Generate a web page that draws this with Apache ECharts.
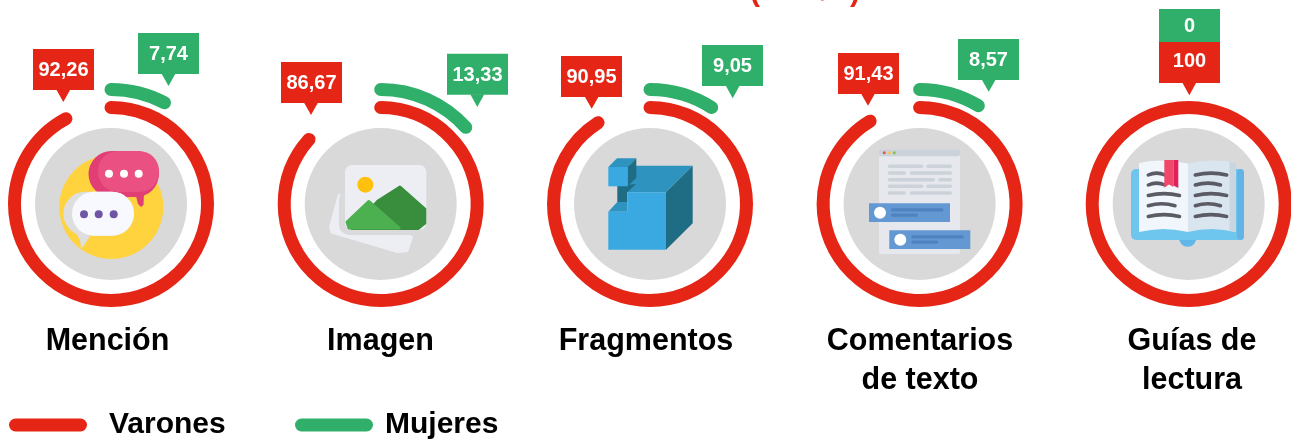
<!DOCTYPE html>
<html>
<head>
<meta charset="utf-8">
<title>Varones y Mujeres</title>
<style>
  html, body { margin: 0; padding: 0; background: #fff; }
  #chart { width: 1291px; height: 441px; }
</style>
<script src="https://cdn.jsdelivr.net/npm/echarts@6/dist/echarts.min.js"></script>
</head>
<body>
<div id="chart"></div>
<script>
// data
const categories = ['Mención', 'Imagen', 'Fragmentos', 'Comentarios\nde texto', 'Guías de\nlectura'];
const varones = [92.26, 86.67, 90.95, 91.43, 100];
const mujeres = [7.74, 13.33, 9.05, 8.57, 0];

const RED = '#E52515';
const GREEN = '#30AF6A';
const FONT = '"Liberation Sans", Arial, sans-serif';

// layout: ring centres, callout boxes (left, top, tip x, tip y), label centres
const centers = [[111, 204], [380.7, 204], [650, 204], [919.6, 204], [1188.7, 204]];
const redBoxes = [[33, 49, 63.3, 102], [281, 62, 311, 115], [561, 56, 591.7, 108.7], [838, 53, 868, 105.7], [1159, 42, 1189.3, 95.3]];
const greenBoxes = [[138, 33, 168.5, 86], [447, 53.7, 477.3, 107], [702, 45, 732.7, 98.3], [958, 39, 988.7, 91.7], [1159, 9, null, null]];
const labelX = [107.5, 380.5, 646, 920, 1192];

// small drawing helpers
const rect = (x, y, w, h, fill, r) => ({ type: 'rect', silent: true, shape: { x, y, width: w, height: h, r: r || 0 }, style: { fill } });
const circle = (cx, cy, r, fill) => ({ type: 'circle', silent: true, shape: { cx, cy, r }, style: { fill } });
const poly = (points, fill, round) => ({
    type: 'polygon', silent: true, shape: { points },
    style: round ? { fill, stroke: fill, lineWidth: round, lineJoin: 'round' } : { fill }
});
const curve = (x1, x2, y, stroke) => ({
    type: 'bezierCurve', silent: true,
    shape: { x1, y1: y, x2, y2: y, cpx1: x1 + (x2 - x1) / 3, cpy1: y - 2.5, cpx2: x1 + (x2 - x1) * 2 / 3, cpy2: y - 2.5 },
    style: { stroke, lineWidth: 3.5, lineCap: 'round', fill: null }
});
const text = (x, y, str, size, fill, align) => ({
    type: 'text', silent: true, x, y,
    style: { text: str, font: 'bold ' + size + 'px ' + FONT, fill, align: align || 'center', verticalAlign: 'middle', lineHeight: 39 }
});

const fmt = v => String(v).replace('.', ',');

// one callout: box, tip and value
const callout = (box, value, color, textY) => {
    const [x, y, tx, ty] = box;
    const h = tx === null ? 33 : 41;
    const out = [rect(x, y, 61, h, color)];
    if (tx !== null) out.push(poly([[tx - 7, y + h - 0.5], [tx + 7, y + h - 0.5], [tx, ty]], color));
    out.push(text(x + 30.5, textY !== undefined ? textY : y + h / 2 + 1, fmt(value), 20, '#fff'));
    return out;
};

// icons drawn inside the grey discs
const iconMencion = () => [
    circle(111.3, 207, 52, '#FFD33E'),
    poly([[135, 192], [144, 192], [143.5, 205], [141, 207], [138, 204]], '#E03E74'),
    rect(88.5, 151, 70.5, 46, '#E03E74', 23),
    rect(98, 151, 61, 41, '#EA5082', 20),
    circle(109, 173.7, 4, '#fff'), circle(124, 173.7, 4, '#fff'), circle(138.7, 173.7, 4, '#fff'),
    poly([[74, 230], [90, 236], [83, 247], [81, 248], [80, 240]], '#DEDEDE'),
    rect(63.3, 191.7, 70.7, 44, '#DEDEDE', 22),
    rect(72, 191.7, 62, 44, '#F8F9FE', 22),
    circle(84, 214.3, 4, '#6E56A5'), circle(98.7, 214.3, 4, '#6E56A5'), circle(113.7, 214.3, 4, '#6E56A5')
];

const iconImagen = () => [
    poly([[338.3, 193.3], [329, 226.7], [331, 233.5], [398, 253.3], [408, 252], [413.3, 236.7]], '#ECEEF3'),
    rect(339, 190, 87, 45, '#DADADD', 10),
    rect(345, 165, 81.3, 65, '#ECEEF3', 7),
    circle(365.3, 184.7, 8, '#FFC10D'),
    poly([[400, 187], [424.8, 209], [424.8, 223], [418, 228.5], [352, 228.5], [378, 201]], '#388E3C', 3),
    poly([[368.7, 201.5], [347, 222], [349, 228], [399, 228]], '#4CAF50', 3)
];

const iconFragmentos = () => [
    poly([[627.3, 165.7], [692.7, 165.7], [666, 192.3], [627.3, 192.3]], '#2E93BF'),
    poly([[617.3, 186], [636, 184], [627.3, 192.3], [627.3, 202], [617.3, 202]], '#1F6C85'),
    poly([[608.3, 211.7], [617.3, 202], [627.3, 202], [627.3, 211.7]], '#2E93BF'),
    poly([[627.3, 192.3], [666, 192.3], [666, 249.7], [608.3, 249.7], [608.3, 211.7], [627.3, 211.7]], '#3AA9E2'),
    poly([[666, 192.3], [692.7, 165.7], [692.7, 223.3], [666, 249.7]], '#1F6C85'),
    poly([[608.3, 167], [617, 158.3], [636.3, 158.3], [627.7, 167]], '#2E93BF'),
    poly([[627.7, 167], [636.3, 158.3], [636.3, 177.7], [627.7, 186.3]], '#1F6C85'),
    rect(608.3, 167, 19.4, 19.3, '#3AA9E2')
];

const iconComentarios = () => {
    const grey = '#CBD2D9';
    const rows = [
        [166.3, 887.7, 923.3, 926.3, 952], [173, 887.7, 906, 909.7, 952], [179.7, 887.7, 935, 938.3, 952],
        [186.3, 887.7, 923.3, 926.3, 952], [193, 887.7, 906, 909.7, 952]
    ];
    const out = [
        rect(879, 149.3, 81, 104.7, '#E6E8ED', 2),
        rect(879, 149.3, 81, 7, grey, 2),
        circle(884.3, 152.7, 1.5, '#E0526A'), circle(889.3, 152.7, 1.5, '#F7C948'), circle(894.3, 152.7, 1.5, '#8BC34A')
    ];
    rows.forEach(([y, a, b, c, d]) => {
        out.push(rect(a, y - 1.7, b - a, 3.4, grey, 1.7), rect(c, y - 1.7, d - c, 3.4, grey, 1.7));
    });
    [[869, 203.3], [889.3, 230.3]].forEach(([x, y]) => {
        out.push(
            rect(x, y, 81, 18.7, '#6498D3'),
            circle(x + 11, y + 9.4, 6, '#fff'),
            rect(x + 22, y + 5, 52.4, 3.3, '#4F82C0', 1.6),
            rect(x + 22, y + 10.2, 27, 3.3, '#4F82C0', 1.6)
        );
    });
    return out;
};

const iconGuias = () => {
    const ink = '#5B5B66';
    return [
        circle(1187.7, 238, 8.7, '#62B6E8'),
        rect(1131, 169, 113, 71, '#6EC6EE', 5),
        rect(1237, 169, 7, 71, '#63B4E6', 4),
        poly([[1139, 163], [1151, 161], [1163, 160.5], [1175, 161.5], [1188, 163.5], [1188, 232], [1175, 229.8], [1163, 229], [1151, 230], [1139, 232]], '#F0F6FC'),
        poly([[1188, 163.5], [1200, 161.5], [1212, 160.5], [1224, 161], [1236, 163], [1236, 232], [1224, 230], [1212, 229], [1200, 229.8], [1188, 232]], '#DAE6EF'),
        poly([[1229.5, 162], [1236, 163], [1236, 232], [1229.5, 231]], '#C9D5DF'),
        curve(1148.3, 1165, 175, ink), curve(1148.3, 1165, 185, ink), curve(1148.3, 1179.5, 195.5, ink),
        curve(1148.3, 1175, 205.7, ink), curve(1148.3, 1179.5, 216.5, ink),
        curve(1195.3, 1226.7, 175, ink), curve(1195.3, 1220.5, 185, ink), curve(1195.3, 1226.7, 195.5, ink),
        curve(1195.3, 1220.5, 205.7, ink), curve(1195.3, 1226.7, 216.5, ink),
        poly([[1164.3, 160], [1173.5, 160], [1173.5, 187], [1169, 184.5], [1164.3, 187.5]], '#F0476B'),
        poly([[1173.5, 160], [1178.3, 160], [1178.3, 188], [1173.5, 185.5]], '#E01F5B')
    ];
};

// elements around the rings
const graphics = [];
centers.forEach(([cx, cy]) => graphics.push(circle(cx, cy, 76, '#D9D9D9')));
graphics.push(...iconMencion(), ...iconImagen(), ...iconFragmentos(), ...iconComentarios(), ...iconGuias());
categories.forEach((name, i) => {
    const lines = name.split('\n');
    lines.forEach((line, j) => graphics.push(text(labelX[i], 341.5 + j * 39, line, 30.5, '#000')));
    graphics.push(...callout(greenBoxes[i], mujeres[i], GREEN));
    graphics.push(...callout(redBoxes[i], varones[i], RED, i === 4 ? 61 : undefined));
});
// title cut off by the top of the image
graphics.push(text(755, -7, '(', 30, RED), text(823, -12, ',', 30, RED), text(855, -7, ')', 30, RED));

// one gauge per ring, the arc length comes from the gauge scale
const ring = (name, value, label, center, radius, color) => ({
    type: 'gauge',
    name,
    center,
    radius,
    silent: true,
    startAngle: 90,
    endAngle: -270,
    min: 0,
    max: 100,
    pointer: { show: false },
    axisLine: { show: false },
    axisTick: { show: false },
    splitLine: { show: false },
    axisLabel: { show: false },
    title: { show: false },
    detail: { show: false },
    progress: { show: value > 0, roundCap: true, width: 13, itemStyle: { color } },
    data: [{ name: label, value }]
});

const series = [];
centers.forEach((center, i) => {
    series.push(ring('Varones', varones[i], categories[i], center, 103, RED));
    series.push(ring('Mujeres', mujeres[i], categories[i], center, 121, GREEN));
});

const pill = 'path://M6.5 0H71.5A6.5 6.5 0 0 1 71.5 13H6.5A6.5 6.5 0 0 1 6.5 0Z';
const legendFor = (name, color, left, gap) => ({
    data: [{ name, icon: pill, itemStyle: { color } }],
    left,
    top: 410,
    padding: 0,
    itemWidth: 78,
    itemHeight: 13,
    selectedMode: false,
    textStyle: { fontFamily: FONT, fontWeight: 'bold', fontSize: 30, color: '#000', padding: [6, 0, 0, gap] }
});

const chart = echarts.init(document.getElementById('chart'));
chart.setOption({
    animation: false,
    backgroundColor: '#fff',
    legend: [legendFor('Varones', RED, 9, 17), legendFor('Mujeres', GREEN, 295, 7)],
    series,
    graphic: { elements: graphics }
});
</script>
</body>
</html>
